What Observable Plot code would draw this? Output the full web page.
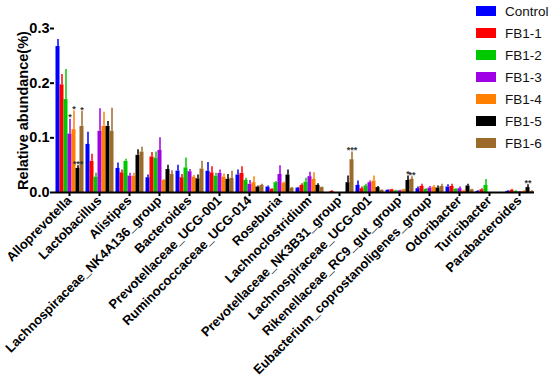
<!DOCTYPE html>
<html><head><meta charset="utf-8">
<script src="https://cdn.jsdelivr.net/npm/d3@7"></script>
<script src="https://cdn.jsdelivr.net/npm/@observablehq/plot@0.6"></script>
<style>
body{margin:0;background:#fff;}
#wrap{position:relative;width:550px;height:380px;font-family:"Liberation Sans",Arial,sans-serif;}
#legend{position:absolute;left:476px;top:0px;}
.item{display:flex;align-items:center;height:22px;font-size:13.5px;color:#111;}
.sw{width:20px;height:10px;margin-right:9px;}
</style></head><body><div id="wrap"><div id="legend"></div></div>
<script>
const genera = ["Alloprevotella","Lactobacillus","Alistipes","Lachnospiraceae_NK4A136_group","Bacteroides","Prevotellaceae_UCG-001","Ruminococcaceae_UCG-014","Roseburia","Lachnoclostridium","Prevotellaceae_NK3B31_group","Lachnospiraceae_UCG-001","Rikenellaceae_RC9_gut_group","Eubacterium_coprostanoligenes_group","Odoribacter","Turicibacter","Parabacteroides"];
const groups = ["Control","FB1-1","FB1-2","FB1-3","FB1-4","FB1-5","FB1-6"];
const colors = ["#0000FF","#FF0000","#00C800","#A000E6","#FF8000","#000000","#9C6A2A"];

const control = [0.267,0.088,0.044,0.027,0.039,0.039,0.032,0.010,0.008,0.000,0.013,0.004,0.007,0.010,0.002,0.002];
const controlErr = [0.013,0.022,0.010,0.005,0.011,0.016,0.009,0.002,0.001,0.000,0.008,0.001,0.003,0.004,0.001,0.001];
const fb1_1 = [0.197,0.057,0.036,0.065,0.027,0.036,0.035,0.006,0.013,0.002,0.007,0.005,0.011,0.011,0.005,0.004];
const fb1_1Err = [0.019,0.013,0.005,0.008,0.006,0.011,0.012,0.001,0.003,0.001,0.003,0.001,0.004,0.004,0.002,0.002];
const fb1_2 = [0.170,0.028,0.057,0.063,0.045,0.030,0.022,0.018,0.019,0.000,0.012,0.003,0.006,0.006,0.013,0.002];
const fb1_2Err = [0.055,0.007,0.004,0.011,0.018,0.005,0.004,0.002,0.007,0.000,0.003,0.001,0.001,0.001,0.011,0.001];
const fb1_3 = [0.107,0.112,0.030,0.077,0.038,0.035,0.015,0.033,0.029,0.000,0.018,0.003,0.008,0.007,0.000,0.001];
const fb1_3Err = [0.027,0.041,0.005,0.023,0.004,0.006,0.007,0.016,0.008,0.000,0.003,0.001,0.003,0.003,0.000,0.001];
const fb1_4 = [0.115,0.121,0.030,0.022,0.028,0.028,0.018,0.017,0.024,0.000,0.021,0.005,0.010,0.003,0.000,0.002];
const fb1_4Err = [0.034,0.026,0.005,0.002,0.003,0.006,0.011,0.002,0.012,0.000,0.009,0.001,0.003,0.001,0.000,0.001];
const fb1_5 = [0.044,0.121,0.068,0.042,0.025,0.024,0.010,0.032,0.013,0.018,0.009,0.022,0.008,0.012,0.000,0.009];
const fb1_5Err = [0.005,0.009,0.010,0.008,0.007,0.009,0.002,0.009,0.003,0.012,0.002,0.008,0.004,0.003,0.000,0.005];
const fb1_6 = [0.121,0.112,0.074,0.033,0.043,0.026,0.013,0.008,0.009,0.060,0.004,0.024,0.011,0.005,0.000,0.002];
const fb1_6Err = [0.027,0.042,0.009,0.007,0.014,0.013,0.002,0.001,0.001,0.014,0.001,0.005,0.004,0.001,0.000,0.001];

const starGenus = ["Alloprevotella","Alloprevotella","Alloprevotella","Alloprevotella","Prevotellaceae_NK3B31_group","Rikenellaceae_RC9_gut_group","Rikenellaceae_RC9_gut_group","Parabacteroides"];
const starGroup = ["FB1-3","FB1-4","FB1-5","FB1-6","FB1-6","FB1-5","FB1-6","FB1-5"];
const starText = ["*","*","***","*","***","*","**","**"];

const yTicks = [0, 0.1, 0.2, 0.3];

const means = [control, fb1_1, fb1_2, fb1_3, fb1_4, fb1_5, fb1_6];
const errs = [controlErr, fb1_1Err, fb1_2Err, fb1_3Err, fb1_4Err, fb1_5Err, fb1_6Err];
const rows = groups.flatMap((g, gi) => genera.map((gen, i) => ({genus: gen, group: g, mean: means[gi][i], err: errs[gi][i]})));
const errTop = (gen, g) => { const gi = groups.indexOf(g), i = genera.indexOf(gen); return means[gi][i] + errs[gi][i]; };
const stars = starGenus.map((gen, k) => ({genus: gen, group: starGroup[k], text: starText[k], y: errTop(gen, starGroup[k])}));

const chart = Plot.plot({
  width: 550, height: 380,
  marginLeft: 46.5, marginRight: 8.5, marginTop: 28, marginBottom: 188,
  style: {fontFamily: "'Liberation Sans', Arial, sans-serif", background: "white", color: "black"},
  fx: {domain: genera, padding: 0},
  x: {domain: groups, paddingInner: 0, paddingOuter: 0.2, axis: null},
  y: {domain: [0, 0.3]},
  color: {domain: groups, range: colors},
  marks: [
    Plot.barY(rows, {fx: "genus", x: "group", y: "mean", fill: "group"}),
    Plot.ruleX(rows.filter(d => d.err > 0), {fx: "genus", x: "group", y1: "mean", y2: d => d.mean + d.err, stroke: "group", strokeWidth: 1.5}),
    Plot.text(stars, {fx: "genus", x: "group", y: "y", text: "text", dy: 1, lineAnchor: "bottom", fontSize: 9, fontWeight: "bold", fill: "#333"}),
    Plot.ruleY([0], {strokeWidth: 2}),
    Plot.axisY({ticks: yTicks, tickFormat: ".1f", tickSize: 4, tickPadding: 1, strokeWidth: 2, line: true, fontSize: 14.5, fontWeight: "bold",
      label: "Relative abundance(%)", labelAnchor: "center", labelArrow: "none", labelOffset: 37}),
    Plot.axisFx({anchor: "bottom", tickRotate: -45, tickSize: 4, tickPadding: 2, strokeWidth: 2, fontSize: 13, fontWeight: "bold", label: null})
  ]
});
const wrap = document.getElementById("wrap");
wrap.insertBefore(chart, wrap.firstChild);

const legend = document.getElementById("legend");
groups.forEach((g, i) => {
  const it = document.createElement("div"); it.className = "item";
  const sw = document.createElement("div"); sw.className = "sw"; sw.style.background = colors[i];
  const tx = document.createElement("span"); tx.textContent = g;
  it.appendChild(sw); it.appendChild(tx); legend.appendChild(it);
});
</script>
</body></html>
